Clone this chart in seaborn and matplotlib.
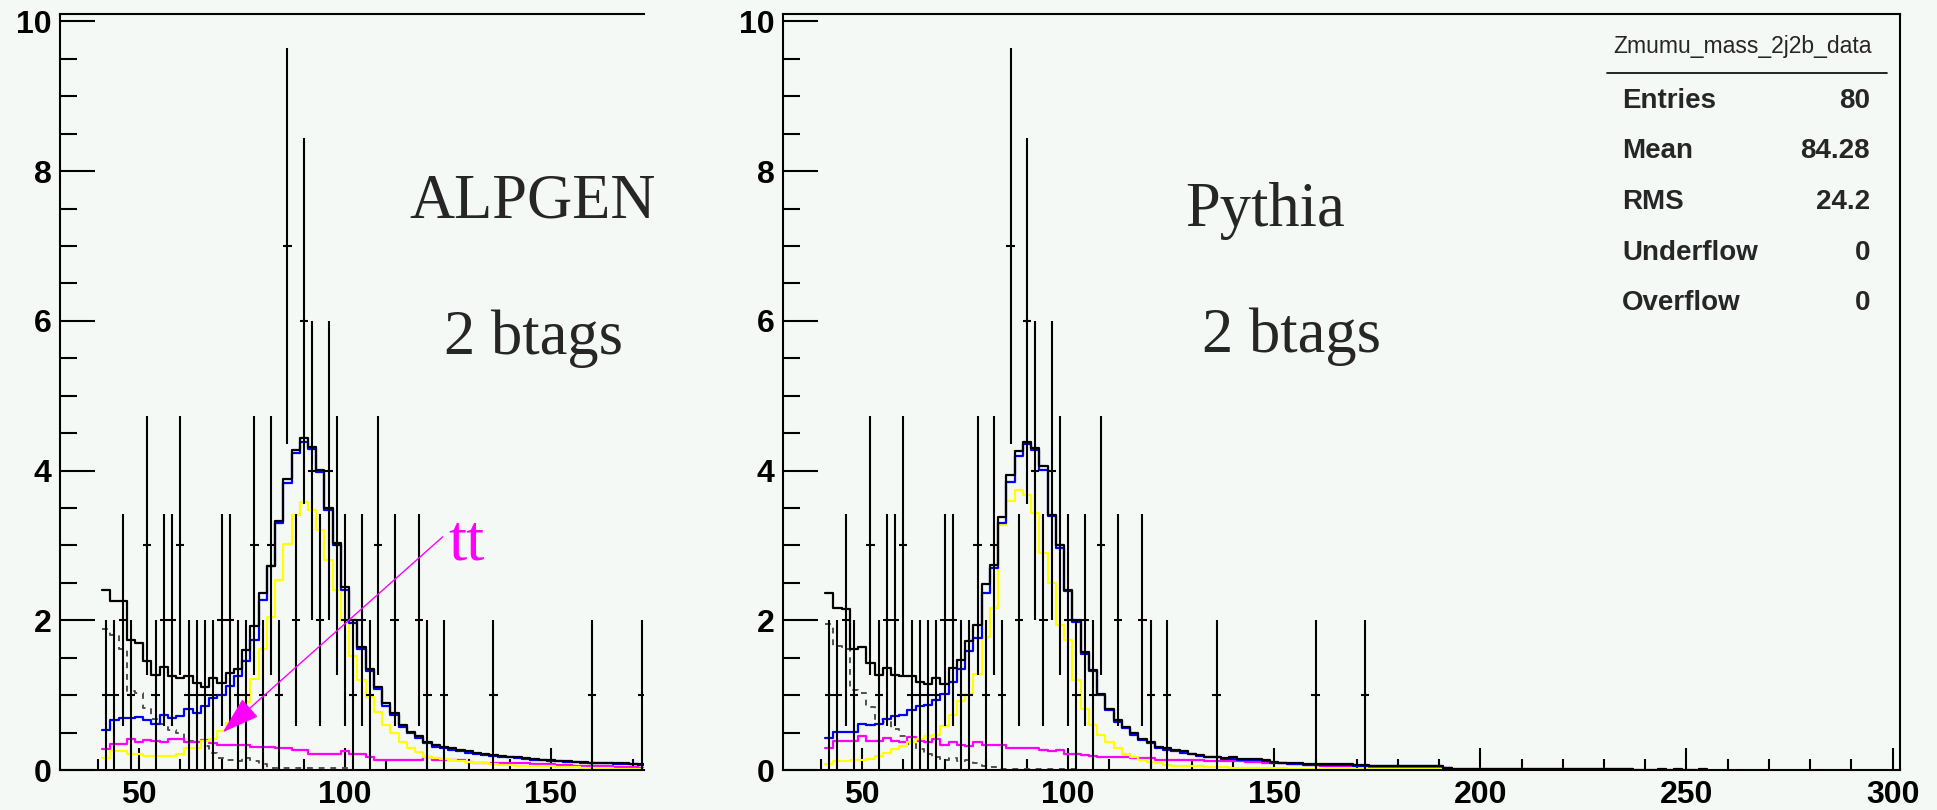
import numpy as np
import pandas as pd
import matplotlib
matplotlib.use("Agg")
import matplotlib.pyplot as plt
import seaborn as sns

# ---- data ----
bin_lo = 41.0   # first bin edge (GeV)
bin_w = 2.0     # bin width (GeV)

# observed events: bin index -> count (same data in both panels)
data_bins = [0, 1, 2, 3, 5, 6, 7, 8, 9, 10, 11, 12, 13, 14, 15, 16, 17, 18, 19, 20,
             21, 22, 23, 24, 25, 26, 27, 28, 29, 30, 31, 32, 33, 35, 38, 39, 41, 47, 59, 65]
data_counts = [1, 1, 2, 1, 3, 1, 2, 2, 3, 1, 1, 1, 1, 2, 2, 1, 1, 3, 1, 3,
               1, 7, 2, 6, 4, 2, 4, 3, 2, 1, 2, 1, 3, 2, 2, 1, 1, 1, 1, 1]

# ALPGEN panel, per bin
alp_total = [2.40, 2.26, 2.26, 1.74, 1.70, 1.46, 1.27, 1.37, 1.26, 1.23, 1.26, 1.16, 1.11, 1.23,
             1.16, 1.29, 1.35, 1.60, 1.92, 2.36, 2.73, 3.33, 3.89, 4.28, 4.43, 4.32, 4.01, 3.50,
             3.03, 2.44, 2.00, 1.64, 1.35, 1.11, 0.89, 0.76, 0.60, 0.51, 0.45, 0.38, 0.33, 0.31,
             0.29, 0.27, 0.25, 0.23, 0.21, 0.20, 0.19, 0.18, 0.17, 0.16, 0.15, 0.14, 0.13, 0.12,
             0.12, 0.11, 0.11, 0.10, 0.10, 0.09, 0.09, 0.09, 0.08, 0.08]
alp_blue = [0.53, 0.67, 0.70, 0.70, 0.71, 0.67, 0.62, 0.74, 0.69, 0.72, 0.82, 0.76, 0.85, 0.96,
            1.00, 1.12, 1.25, 1.45, 1.74, 2.27, 2.72, 3.30, 3.83, 4.23, 4.38, 4.29, 3.98, 3.47,
            3.00, 2.41, 1.97, 1.61, 1.32, 1.08, 0.86, 0.73, 0.58, 0.49, 0.43, 0.36, 0.31, 0.29,
            0.27, 0.25, 0.23, 0.22, 0.20, 0.19, 0.18, 0.17, 0.16, 0.15, 0.14, 0.13, 0.12, 0.12,
            0.11, 0.11, 0.10, 0.10, 0.09, 0.09, 0.08, 0.08, 0.08, 0.07]
alp_yellow = [0.16, 0.25, 0.25, 0.21, 0.21, 0.19, 0.19, 0.19, 0.19, 0.21, 0.30, 0.30, 0.39, 0.42,
              0.52, 0.63, 0.72, 0.91, 1.22, 1.62, 2.05, 2.54, 3.02, 3.41, 3.58, 3.47, 3.20, 2.81,
              2.41, 2.00, 1.52, 1.20, 0.98, 0.78, 0.60, 0.49, 0.38, 0.29, 0.24, 0.18, 0.16, 0.15,
              0.14, 0.12, 0.11, 0.10, 0.09, 0.08, 0.07, 0.07, 0.06, 0.06, 0.05, 0.05, 0.05, 0.04,
              0.04, 0.04, 0.03, 0.03, 0.03, 0.03, 0.02, 0.02, 0.02, 0.02]
alp_magenta = [0.28, 0.35, 0.35, 0.41, 0.37, 0.40, 0.39, 0.37, 0.41, 0.41, 0.37, 0.37, 0.40, 0.36,
               0.34, 0.34, 0.33, 0.33, 0.31, 0.31, 0.31, 0.29, 0.29, 0.27, 0.27, 0.21, 0.21, 0.21,
               0.21, 0.25, 0.22, 0.22, 0.18, 0.14, 0.14, 0.14, 0.14, 0.14, 0.14, 0.17, 0.13, 0.13,
               0.13, 0.13, 0.11, 0.10, 0.10, 0.10, 0.10, 0.09, 0.09, 0.09, 0.08, 0.08, 0.08, 0.07,
               0.07, 0.06, 0.06, 0.06, 0.05, 0.05, 0.04, 0.04, 0.04, 0.03]
alp_dashed = [1.88, 1.81, 1.61, 1.06, 1.03, 0.83, 0.68, 0.61, 0.54, 0.50, 0.39, 0.37, 0.32, 0.23,
              0.16, 0.13, 0.12, 0.16, 0.12, 0.08, 0.03, 0.03, 0.03, 0.03, 0.03, 0.03, 0.03, 0.03,
              0.03, 0.03]

# Pythia panel, per bin
pyt_total = [2.36, 2.17, 2.15, 1.61, 1.64, 1.43, 1.27, 1.36, 1.27, 1.26, 1.26, 1.18, 1.15, 1.23,
             1.15, 1.36, 1.47, 1.72, 1.94, 2.48, 2.74, 3.38, 3.94, 4.26, 4.38, 4.30, 4.06, 3.41,
             3.01, 2.41, 2.00, 1.57, 1.34, 1.02, 0.82, 0.67, 0.58, 0.49, 0.42, 0.38, 0.31, 0.29,
             0.27, 0.25, 0.22, 0.20, 0.18, 0.18, 0.16, 0.17, 0.15, 0.15, 0.15, 0.13, 0.11, 0.10,
             0.09, 0.09, 0.08, 0.08, 0.08, 0.08, 0.08, 0.08, 0.07, 0.07, 0.05, 0.06, 0.05, 0.05,
             0.05, 0.05, 0.05, 0.05, 0.05, 0.03, 0.02, 0.02, 0.02, 0.02, 0.02, 0.02, 0.02, 0.02,
             0.02, 0.02, 0.02, 0.02, 0.02, 0.02, 0.02, 0.02, 0.02, 0.02, 0.02, 0.02, 0.02, 0.02,
             0.00, 0.00, 0.00, 0.02, 0.00, 0.02, 0.00, 0.00, 0.02]
pyt_blue = [0.43, 0.51, 0.51, 0.51, 0.62, 0.60, 0.62, 0.68, 0.72, 0.74, 0.80, 0.86, 0.87, 0.94,
            1.01, 1.17, 1.35, 1.59, 1.77, 2.37, 2.70, 3.30, 3.85, 4.19, 4.35, 4.28, 4.01, 3.39,
            2.97, 2.39, 1.98, 1.55, 1.32, 1.00, 0.80, 0.64, 0.56, 0.47, 0.40, 0.36, 0.29, 0.27,
            0.25, 0.23, 0.21, 0.19, 0.17, 0.17, 0.15, 0.15, 0.14, 0.14, 0.14, 0.12, 0.10, 0.09,
            0.08, 0.08, 0.07, 0.07, 0.07, 0.07, 0.07, 0.07, 0.06, 0.06, 0.05, 0.05, 0.05, 0.05,
            0.05, 0.05, 0.05, 0.05, 0.05, 0.03]
pyt_yellow = [0.08, 0.12, 0.12, 0.13, 0.13, 0.15, 0.19, 0.23, 0.28, 0.32, 0.37, 0.41, 0.45, 0.47,
              0.59, 0.74, 0.92, 1.02, 1.28, 1.78, 2.16, 3.27, 3.59, 3.74, 3.68, 3.43, 2.90, 2.50,
              1.94, 1.74, 1.20, 0.82, 0.60, 0.47, 0.38, 0.29, 0.22, 0.18, 0.13, 0.11, 0.09, 0.07,
              0.06, 0.06, 0.05, 0.05, 0.04, 0.04, 0.04, 0.03, 0.03, 0.03, 0.03, 0.03, 0.03, 0.03,
              0.02, 0.02, 0.02, 0.02, 0.02, 0.02, 0.02, 0.02, 0.02, 0.02, 0.02, 0.02, 0.02, 0.02,
              0.02, 0.02, 0.02, 0.02, 0.02, 0.02, 0.02, 0.02, 0.02, 0.02, 0.02, 0.02, 0.02, 0.02,
              0.02, 0.02, 0.02, 0.02, 0.02, 0.02, 0.02, 0.02, 0.02, 0.02, 0.02, 0.02, 0.02, 0.02]
pyt_magenta = [0.30, 0.39, 0.39, 0.39, 0.45, 0.39, 0.39, 0.43, 0.39, 0.37, 0.44, 0.39, 0.37, 0.41,
               0.34, 0.37, 0.34, 0.32, 0.37, 0.34, 0.33, 0.34, 0.29, 0.29, 0.29, 0.29, 0.27, 0.25,
               0.27, 0.22, 0.22, 0.20, 0.19, 0.18, 0.18, 0.18, 0.18, 0.16, 0.16, 0.16, 0.13, 0.13,
               0.13, 0.13, 0.13, 0.13, 0.12, 0.12, 0.12, 0.12, 0.12, 0.11, 0.11, 0.10, 0.10, 0.09,
               0.08, 0.08, 0.07, 0.07, 0.06, 0.06, 0.06, 0.05, 0.05, 0.05, 0.04, 0.04, 0.04, 0.04,
               0.03, 0.03, 0.03, 0.03, 0.03, 0.03, 0.02, 0.02, 0.02, 0.02, 0.02, 0.02, 0.02, 0.02,
               0.02, 0.02, 0.02, 0.02, 0.02, 0.02, 0.02, 0.02, 0.02, 0.02, 0.02, 0.02, 0.02, 0.02]
pyt_dashed = [1.95, 1.65, 1.62, 1.07, 1.03, 0.84, 0.68, 0.64, 0.55, 0.45, 0.35, 0.28, 0.22, 0.18,
              0.14, 0.16, 0.12, 0.14, 0.10, 0.05, 0.04, 0.02, 0.02, 0.02, 0.02, 0.02, 0.02, 0.02,
              0.02, 0.02, 0.02]

stats_title = "Zmumu_mass_2j2b_data"
stats_rows = [("Entries", "80"), ("Mean", "84.28"), ("RMS", "24.2"),
              ("Underflow", "0"), ("Overflow", "0")]

BG = "#f5f9f6"
sns.set_style("ticks")
plt.rcParams["font.family"] = ["Liberation Sans", "DejaVu Sans"]

fig = plt.figure(figsize=(19.37, 8.1), dpi=100, facecolor=BG)
W, H = 1937.0, 810.0
ax_l = fig.add_axes([60 / W, 40 / H, 584 / W, 756 / H])
ax_r = fig.add_axes([783 / W, 40 / H, 1117 / W, 756 / H])


def step_hist(ax, values, color, ls="-", lw=1.6):
    vals = np.asarray(values, dtype=float)
    edges = bin_lo + bin_w * np.arange(len(vals) + 1)
    centers = 0.5 * (edges[:-1] + edges[1:])
    df = pd.DataFrame({"m": centers, "w": vals})
    sns.histplot(data=df, x="m", weights="w", bins=[float(e) for e in edges],
                 element="step", fill=False, color=color, linestyle=ls,
                 linewidth=lw, ax=ax)


def draw_panel(ax, total, blue, yellow, magenta, dashed, xlim, right_spine):
    ax.set_facecolor(BG)
    step_hist(ax, dashed, "#505050", ls=(0, (3, 3)), lw=1.4)
    step_hist(ax, magenta, "#ff00ff")
    step_hist(ax, yellow, "#ffff00")
    step_hist(ax, blue, "#0000ff")
    step_hist(ax, total, "black")

    cnt = np.asarray(data_counts, dtype=float)
    x = bin_lo + bin_w * (np.asarray(data_bins) + 0.5)
    ax.errorbar(x, cnt, yerr=np.sqrt(cnt), xerr=bin_w / 2, fmt="none",
                ecolor="black", elinewidth=1.5, capsize=0, zorder=3)

    ax.set_xlabel("")
    ax.set_ylabel("")
    ax.set_yticks([0, 2, 4, 6, 8, 10])
    ax.set_yticks(np.arange(0, 10.01, 0.5), minor=True)
    ax.set_xticks([50, 100, 150, 200, 250, 300])
    ax.set_xticks(np.arange(40, 301, 10), minor=True)
    ax.set_xlim(*xlim)
    ax.set_ylim(0, 10.1)
    ax.tick_params(axis="both", which="both", direction="in", width=1.5, colors="black")
    ax.tick_params(axis="y", which="major", length=25, pad=6)
    ax.tick_params(axis="y", which="minor", length=12)
    ax.tick_params(axis="x", which="major", length=16, pad=7)
    ax.tick_params(axis="x", which="minor", length=8)
    for lab in ax.get_xticklabels() + ax.get_yticklabels():
        lab.set_fontsize(23)
        lab.set_fontweight("bold")
    for s in ax.spines.values():
        s.set_linewidth(1.5)
        s.set_color("black")
    ax.spines["right"].set_visible(right_spine)


draw_panel(ax_l, alp_total, alp_blue, alp_yellow, alp_magenta, alp_dashed,
           (30.8, 172.55), False)
draw_panel(ax_r, pyt_total, pyt_blue, pyt_yellow, pyt_magenta, pyt_dashed,
           (30.8, 301.8), True)

# annotations
serif = ["Liberation Serif", "DejaVu Serif"]
fig.text(533 / W, 1 - 217 / H, "ALPGEN", family=serif, fontsize=45, ha="center", va="baseline")
fig.text(533 / W, 1 - 354 / H, "2 btags", family=serif, fontsize=45, ha="center", va="baseline")
fig.text(1265 / W, 1 - 226 / H, "Pythia", family=serif, fontsize=45, ha="center", va="baseline")
fig.text(1291 / W, 1 - 352 / H, "2 btags", family=serif, fontsize=45, ha="center", va="baseline")

ax_l.annotate("", xy=(69.8, 0.48), xytext=(124.2, 3.14),
              arrowprops=dict(arrowstyle="-|>,head_length=1.2,head_width=0.38",
                              color="#ff00ff", lw=1.0, mutation_scale=20))
fig.text(448 / W, 1 - 560 / H, "tt", family=serif, fontsize=47, color="#ff00ff",
         ha="left", va="baseline")

# stats box
fig.text(1742 / W, 1 - 53 / H, stats_title, fontsize=16.5, ha="center", va="baseline")
fig.add_artist(plt.Line2D([1607 / W, 1887 / W], [1 - 73 / H, 1 - 73 / H],
                          color="black", lw=1.2))
for i, (k, v) in enumerate(stats_rows):
    yb = 1 - (108 + 50.5 * i) / H
    fig.text(1622 / W, yb, k, fontsize=20, fontweight="bold", ha="left", va="baseline")
    fig.text(1870 / W, yb, v, fontsize=20, fontweight="bold", ha="right", va="baseline")

fig.savefig("out.png", dpi=100, facecolor=BG)
